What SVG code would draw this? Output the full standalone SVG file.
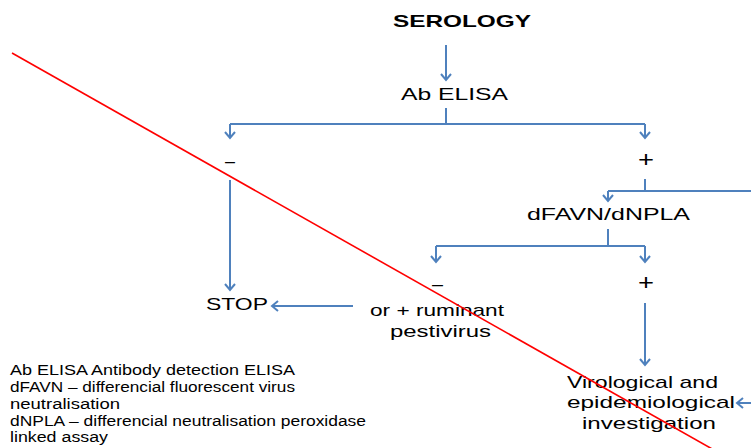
<svg xmlns="http://www.w3.org/2000/svg" width="751" height="448" viewBox="0 0 751 448">
<style>
text{font-family:"Liberation Sans",Arial,sans-serif;fill:#000;}
.t{font-size:17px;}
.p{font-size:22px;}
.b{font-size:17px;font-weight:bold;}
.l{font-size:14px;}
.c{stroke:#4F81BD;stroke-width:2;fill:none;}
</style>
<defs>
<marker id="ah" markerUnits="userSpaceOnUse" viewBox="-8 -7 10 14" markerWidth="10" markerHeight="14" refX="0" refY="0" orient="auto">
<path d="M-6,-5 L0,0 L-6,5" fill="none" stroke="#4F81BD" stroke-width="2"/>
</marker>
</defs>
<rect width="751" height="448" fill="#fff"/>
<g id="connectors">
<path class="c" d="M446,45 L446,80" marker-end="url(#ah)"/>
<path class="c" d="M446,108 L446,124 M230,124 L645,124"/>
<path class="c" d="M230,124 L230,138" marker-end="url(#ah)"/>
<path class="c" d="M645,124 L645,138" marker-end="url(#ah)"/>
<path class="c" d="M230,180 L230,290" marker-end="url(#ah)"/>
<path class="c" d="M645,179 L645,191 M608,191 L751,191"/>
<path class="c" d="M608,191 L608,201" marker-end="url(#ah)"/>
<path class="c" d="M608,229 L608,246 M436,246 L645,246"/>
<path class="c" d="M436,246 L436,262" marker-end="url(#ah)"/>
<path class="c" d="M645,246 L645,262" marker-end="url(#ah)"/>
<path class="c" d="M353,306 L272,306" marker-end="url(#ah)"/>
<path class="c" d="M645,303 L645,365" marker-end="url(#ah)"/>
<path class="c" d="M751,403 L737,403" marker-end="url(#ah)"/>
</g>
<g id="serology"><text class="b" x="393" y="27" textLength="138" lengthAdjust="spacingAndGlyphs">SEROLOGY</text></g>
<g id="abelisa"><text class="t" x="401" y="100" textLength="107" lengthAdjust="spacingAndGlyphs">Ab ELISA</text></g>
<g id="neg1"><text class="t" x="225" y="167" textLength="10" lengthAdjust="spacingAndGlyphs">–</text></g>
<g id="pos1"><text class="p" x="638" y="167" textLength="16" lengthAdjust="spacingAndGlyphs">+</text></g>
<g id="dfavn"><text class="t" x="527" y="220" textLength="163" lengthAdjust="spacingAndGlyphs">dFAVN/dNPLA</text></g>
<g id="neg2"><text class="t" x="432" y="290" textLength="11" lengthAdjust="spacingAndGlyphs">–</text></g>
<g id="pos2"><text class="p" x="638" y="290" textLength="16" lengthAdjust="spacingAndGlyphs">+</text></g>
<g id="stop"><text class="t" x="206" y="310" textLength="62" lengthAdjust="spacingAndGlyphs">STOP</text></g>
<g id="ruminant">
<text class="t" x="370" y="316" textLength="134" lengthAdjust="spacingAndGlyphs">or + ruminant</text>
<text class="t" x="390" y="337" textLength="101" lengthAdjust="spacingAndGlyphs">pestivirus</text>
</g>
<g id="virological">
<text class="t" x="567" y="388" textLength="151" lengthAdjust="spacingAndGlyphs">Virological and</text>
<text class="t" x="567" y="408" textLength="168" lengthAdjust="spacingAndGlyphs">epidemiological</text>
<text class="t" x="582" y="429" textLength="134" lengthAdjust="spacingAndGlyphs">investigation</text>
</g>
<g id="legend">
<text class="l" x="10" y="375" textLength="285" lengthAdjust="spacingAndGlyphs">Ab ELISA Antibody detection ELISA</text>
<text class="l" x="10" y="392" textLength="285" lengthAdjust="spacingAndGlyphs">dFAVN – differencial fluorescent virus</text>
<text class="l" x="10" y="409" textLength="110" lengthAdjust="spacingAndGlyphs">neutralisation</text>
<text class="l" x="10" y="426" textLength="356" lengthAdjust="spacingAndGlyphs">dNPLA – differencial neutralisation peroxidase</text>
<text class="l" x="10" y="442" textLength="98" lengthAdjust="spacingAndGlyphs">linked assay</text>
</g>
<line x1="12" y1="53" x2="714" y2="450" stroke="#FF0000" stroke-width="1.6"/>
</svg>
